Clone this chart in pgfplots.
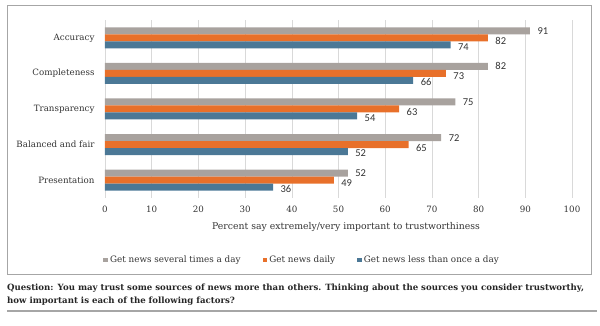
\documentclass[border=0pt]{standalone}
\usepackage{pgfplots}
\pgfplotsset{compat=1.18}
\usepackage{fontspec}
\setmainfont{DejaVu Serif}
\newfontfamily\lab{Carlito}
\definecolor{cgray}{HTML}{A8A29E}
\definecolor{corange}{HTML}{E8702A}
\definecolor{cblue}{HTML}{4B7896}
\definecolor{cgrid}{HTML}{D9D9D9}
\definecolor{cframe}{HTML}{A6A6A6}
\begin{document}
\begin{tikzpicture}
\path (0pt,0pt) rectangle (600pt,326pt);
\draw[cframe, line width=1pt] (7pt,51pt) rectangle (591pt,320pt);
\begin{axis}[
  at={(105pt,128pt)}, anchor=south west,
  scale only axis, width=467pt, height=178pt,
  xbar, bar width=7pt,
  xmin=0, xmax=100, ymin=-0.5, ymax=4.5,
  ytick={0,1,2,3,4},
  yticklabels={Presentation,Balanced and fair,Transparency,Completeness,Accuracy},
  xtick={0,10,...,100},
  xmajorgrids, grid style={cgrid, line width=0.6pt},
  axis line style={draw=none},
  major tick length=0pt,
  tick label style={font=\fontsize{8.7}{10}\selectfont, text=black!80},
  xticklabel style={yshift=-5pt},
  yticklabel style={xshift=-7pt},
  /pgf/number format/assume math mode=true,
  nodes near coords,
  nodes near coords style={font=\lab\fontsize{10.5}{12}\selectfont, text=black!80, anchor=west, xshift=4pt},
  legend style={at={(rel axis cs:0.422,-0.348)}, anchor=center, draw=none, legend columns=3,
    font=\fontsize{8.8}{10}\selectfont, text=black!80,
    /tikz/every even column/.append style={column sep=20pt}},
  legend image code/.code={\fill[#1] (0pt,-2.4pt) rectangle (4.8pt,2.4pt);},
]
\addplot[fill=cgray, draw=none, bar shift=7pt, nodes near coords style={yshift=0pt}] coordinates {(52,0) (72,1) (75,2) (82,3) (91,4)};
\addplot[fill=corange, draw=none, bar shift=0pt, nodes near coords style={yshift=-3pt}] coordinates {(49,0) (65,1) (63,2) (73,3) (82,4)};
\addplot[fill=cblue, draw=none, bar shift=-7pt, nodes near coords style={yshift=-2pt}] coordinates {(36,0) (52,1) (54,2) (66,3) (74,4)};
\legend{Get news several times a day, Get news daily, Get news less than once a day}
\end{axis}
\node[anchor=center, font=\fontsize{9.3}{11}\selectfont, text=black!80] at (346pt,99pt) {Percent say extremely/very important to trustworthiness};
\node[anchor=north west, align=left, inner sep=0pt, font=\bfseries\fontsize{8.6}{13}\selectfont, text=black!85] at (7pt,42pt)
 {Question: You may trust some sources of news more than others. Thinking about the sources you consider trustworthy,\\how important is each of the following factors?};
\draw[cframe, line width=1.2pt] (7pt,15pt) -- (597pt,15pt);
\end{tikzpicture}
\end{document}
